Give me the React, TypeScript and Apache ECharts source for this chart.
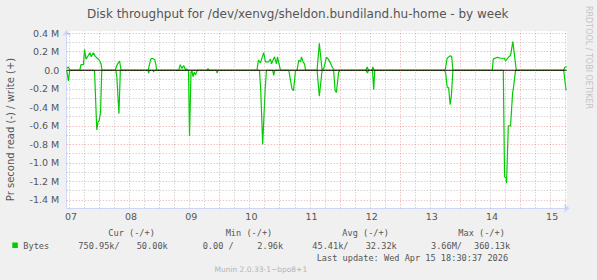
import React, { useEffect, useRef } from 'react';
import * as echarts from 'echarts';

// ---------- data ----------
const chartTitle = 'Disk throughput for /dev/xenvg/sheldon.bundiland.hu-home - by week';
const yAxisTitle = 'Pr second read (-) / write (+)';
const watermark = 'RRDTOOL / TOBI OETIKER';
const dayLabels = ['07', '08', '09', '10', '11', '12', '13', '14', '15'];
// hours since Apr 07 00:00 (noon of each day)
const dayLabelHours = [12, 36, 60, 84, 108, 132, 156, 180, 204];
const yTickValues = [-1.4, -1.2, -1.0, -0.8, -0.6, -0.4, -0.2, 0, 0.2, 0.4];
const yTickLabels = ['-1.4 M', '-1.2 M', '-1.0 M', '-0.8 M', '-0.6 M', '-0.4 M', '-0.2 M', '0.0', '0.2 M', '0.4 M'];

// [hour since Apr 07 00:00, MB/s]
const writeMB: [number, number][] = [
  [11.0, 0.02], [11.6, 0.035], [12.4, 0],
  [16.2, 0], [16.7, 0.06], [17.7, 0.06], [18.1, 0.225], [18.7, 0.12], [19.6, 0.16], [20.3, 0.19],
  [20.8, 0.145], [21.6, 0.19], [22.4, 0.15], [23.2, 0.13], [24.0, 0.11], [24.7, 0.07], [25.1, 0],
  [30.3, 0], [31.3, 0.07], [32.1, 0.1], [32.7, 0],
  [43.5, 0], [44.5, 0.117], [45.0, 0.13], [46.1, 0.117], [46.6, 0.06], [46.9, 0],
  [55.7, 0], [56.3, 0.06], [57.0, 0.02], [57.7, 0.05], [58.3, 0.01], [58.7, 0.015], [59.5, 0],
  [67.0, 0], [67.4, 0.02], [67.8, 0],
  [86.9, 0], [87.5, 0.11], [88.3, 0.08], [89.6, 0.19], [90.3, 0.09], [91.5, 0.09], [92.3, 0.12],
  [92.7, 0.07], [93.9, 0.145], [94.7, 0.07], [95.1, 0.145], [96.3, 0],
  [102.9, 0], [103.6, 0.11], [104.3, 0.09], [104.7, 0.145], [105.3, 0.09], [105.9, 0.07], [106.3, 0],
  [110.9, 0], [111.8, 0.29], [112.9, 0], [113.6, 0.02], [114.6, 0.14], [115.4, 0.12], [116.2, 0.08],
  [117.0, 0.03], [117.8, 0],
  [130.4, 0], [130.9, 0.035], [131.4, 0], [132.8, 0], [133.2, 0.035], [133.6, 0],
  [162.0, 0], [162.8, 0.13], [163.9, 0.155], [164.6, 0.15], [165.1, 0],
  [180.8, 0], [181.2, 0.12], [182.8, 0.14], [184.1, 0.13], [185.7, 0.13], [186.1, 0.1], [187.2, 0.14],
  [188.1, 0.16], [189.0, 0.31], [190.4, 0],
  [209.3, 0], [209.7, 0.03], [210.5, 0.04],
];

// [hour since Apr 07 00:00, MB/s read] (plotted negative)
const readMB: [number, number][] = [
  [11.0, 0], [11.7, 0.115], [12.2, 0],
  [22.1, 0], [23.0, 0.645], [23.5, 0.56], [24.0, 0.54], [24.5, 0.45], [25.0, 0],
  [30.6, 0], [31.0, 0.07], [31.85, 0.47], [32.4, 0],
  [43.5, 0], [43.7, 0.03], [44.0, 0], [45.5, 0], [45.7, 0.02], [45.9, 0],
  [59.6, 0], [60.0, 0.71], [60.6, 0.02], [61.0, 0.01], [61.4, 0.07], [61.9, 0.02], [62.4, 0.05], [63.1, 0],
  [70.8, 0], [71.0, 0.03], [71.3, 0],
  [87.9, 0], [88.4, 0.2], [89.2, 0.8], [90.2, 0.2], [90.7, 0],
  [93.2, 0], [93.6, 0.055], [94.0, 0],
  [99.6, 0], [100.9, 0.2], [101.5, 0.22], [102.3, 0],
  [110.9, 0], [111.8, 0.28], [112.9, 0],
  [117.5, 0], [118.1, 0.22], [118.6, 0.24], [119.5, 0.02], [120.2, 0],
  [130.4, 0], [131.0, 0.03], [131.4, 0], [133.0, 0], [133.5, 0.21], [133.9, 0],
  [161.8, 0], [162.2, 0.03], [162.8, 0.18], [163.4, 0.19], [164.0, 0.37], [164.5, 0.27], [165.1, 0],
  [185.2, 0], [185.7, 1.15], [186.3, 1.16], [186.5, 1.22], [187.2, 0.6], [188.1, 0.6], [188.9, 0.25],
  [189.3, 0.18], [190.1, 0],
  [209.3, 0], [210.2, 0.21], [210.5, 0.21],
];

const legendHeaders = ['Cur (-/+)', 'Min (-/+)', 'Avg (-/+)', 'Max (-/+)'];
const legendName = 'Bytes';
const legendValues = ['750.95k/', '50.00k', '0.00 /', '2.96k', '45.41k/', '32.32k', '3.66M/', '360.13k'];
const lastUpdate = 'Last update: Wed Apr 15 18:30:37 2026';
const footer = 'Munin 2.0.33-1~bpo8+1';

// ---------- layout ----------
const W = 597;
const H = 280;
const GREEN = '#00cc00';
const FONT = '#555555';
const SANS = '"DejaVu Sans", sans-serif';
const MONO = '"DejaVu Sans Mono", monospace';

const headerX = [108.3, 225.7, 342.3, 458.3];
const valueX = [78.3, 136.7, 202.7, 257.3, 312.3, 365.7, 431, 474];

function txt(x: number, y: number, text: string, opts: any = {}) {
  return {
    type: 'text',
    x,
    y,
    rotation: opts.rotation || 0,
    silent: true,
    style: {
      text,
      fill: opts.fill || FONT,
      fontSize: opts.fontSize || 8.6,
      fontFamily: opts.fontFamily || MONO,
      align: opts.align || 'left',
      verticalAlign: 'middle',
      textAlign: opts.align || 'left',
      textVerticalAlign: 'middle',
    },
  };
}

export default function App() {
  const ref = useRef<HTMLDivElement>(null);

  useEffect(() => {
    if (!ref.current) return;
    const chart = echarts.init(ref.current, undefined, { renderer: 'svg' });

    const minorGrid = 'rgba(143,143,143,0.55)';
    const majorGrid = 'rgba(222,79,79,0.5)';
    const gridLines: any[] = [];
    for (let h = 12; h <= 210; h += 6) {
      gridLines.push({
        xAxis: h,
        lineStyle: { color: h % 24 === 0 ? majorGrid : minorGrid, type: [1, 2], width: 1 },
      });
    }
    for (let k = -14; k <= 4; k++) {
      gridLines.push({
        yAxis: k / 10,
        lineStyle: { color: k % 2 === 0 ? majorGrid : minorGrid, type: [1, 2], width: 1 },
      });
    }

    const graphics: any[] = [
      txt(297.8, 14, chartTitle, { fontSize: 12, fontFamily: SANS, align: 'center' }),
      txt(10.5, 129.5, yAxisTitle, { fontSize: 10, fontFamily: SANS, align: 'center', rotation: Math.PI / 2 }),
      txt(588.3, 57.5, watermark, { fontSize: 8, fontFamily: SANS, align: 'center', rotation: -Math.PI / 2, fill: '#c4c4c4' }),
      {
        type: 'rect',
        silent: true,
        shape: { x: 12.3, y: 242.5, width: 5.5, height: 5.5 },
        style: { fill: GREEN },
      },
      txt(23.3, 245.7, legendName),
      txt(316.7, 257.7, lastUpdate),
      txt(260.8, 269, footer, { fontSize: 7.5, fontFamily: SANS, align: 'center', fill: '#b4b4b4' }),
    ];
    legendHeaders.forEach((t, i) => graphics.push(txt(headerX[i], 233.3, t)));
    legendValues.forEach((t, i) => graphics.push(txt(valueX[i], 245.7, t)));

    chart.setOption({
      animation: false,
      backgroundColor: '#f0f0f0',
      grid: {
        left: 66.7,
        right: W - 566.7,
        top: 30.9,
        bottom: H - 208.3,
        show: true,
        backgroundColor: '#ffffff',
        borderWidth: 0,
      },
      xAxis: {
        type: 'value',
        min: 11,
        max: 210.5,
        axisLine: {
          show: true,
          onZero: false,
          lineStyle: { color: '#CFD6F8', width: 1 },
          symbol: ['none', 'arrow'],
          symbolSize: [7, 6],
          symbolOffset: [0, 3],
        },
        axisTick: { show: false },
        splitLine: { show: false },
        axisLabel: {
          customValues: dayLabelHours.map((h) => h + 0.7),
          formatter: (v: number) => dayLabels[Math.round((v - 12.7) / 24)] ?? '',
          color: FONT,
          fontSize: 9.5,
          fontFamily: SANS,
          margin: 3.5,
        },
      },
      yAxis: {
        type: 'value',
        min: -1.49,
        max: 0.425,
        axisLine: {
          show: true,
          onZero: false,
          lineStyle: { color: '#CFD6F8', width: 1 },
          symbol: ['none', 'arrow'],
          symbolSize: [7, 6],
          symbolOffset: [0, 1],
        },
        axisTick: { show: false },
        splitLine: { show: false },
        axisLabel: {
          customValues: yTickValues,
          formatter: (v: number) => {
            const i = yTickValues.findIndex((t) => Math.abs(t - v) < 1e-6);
            return i >= 0 ? yTickLabels[i] : '';
          },
          color: FONT,
          fontSize: 9.5,
          fontFamily: SANS,
          margin: 7.4,
        },
      },
      series: [
        {
          type: 'line',
          data: [[11, 0], [210.5, 0]],
          showSymbol: false,
          silent: true,
          z: 1,
          lineStyle: { opacity: 0, width: 0 },
          markLine: {
            silent: true,
            symbol: 'none',
            label: { show: false },
            animation: false,
            data: gridLines,
          },
        },
        {
          name: 'write',
          type: 'line',
          data: writeMB,
          showSymbol: false,
          silent: true,
          z: 2,
          lineStyle: { color: GREEN, width: 1.2 },
          itemStyle: { color: GREEN },
        },
        {
          name: 'read',
          type: 'line',
          data: readMB.map(([h, v]) => [h, -v]),
          showSymbol: false,
          silent: true,
          z: 2,
          lineStyle: { color: GREEN, width: 1.2 },
          itemStyle: { color: GREEN },
        },
        {
          type: 'line',
          data: [[11, 0], [210.5, 0]],
          showSymbol: false,
          silent: true,
          z: 3,
          lineStyle: { color: '#000000', width: 1 },
        },
      ],
      graphic: graphics,
    });

    return () => chart.dispose();
  }, []);

  return (
    <div
      ref={ref}
      style={{ position: 'fixed', left: 0, top: 0, width: W, height: H }}
    />
  );
}
